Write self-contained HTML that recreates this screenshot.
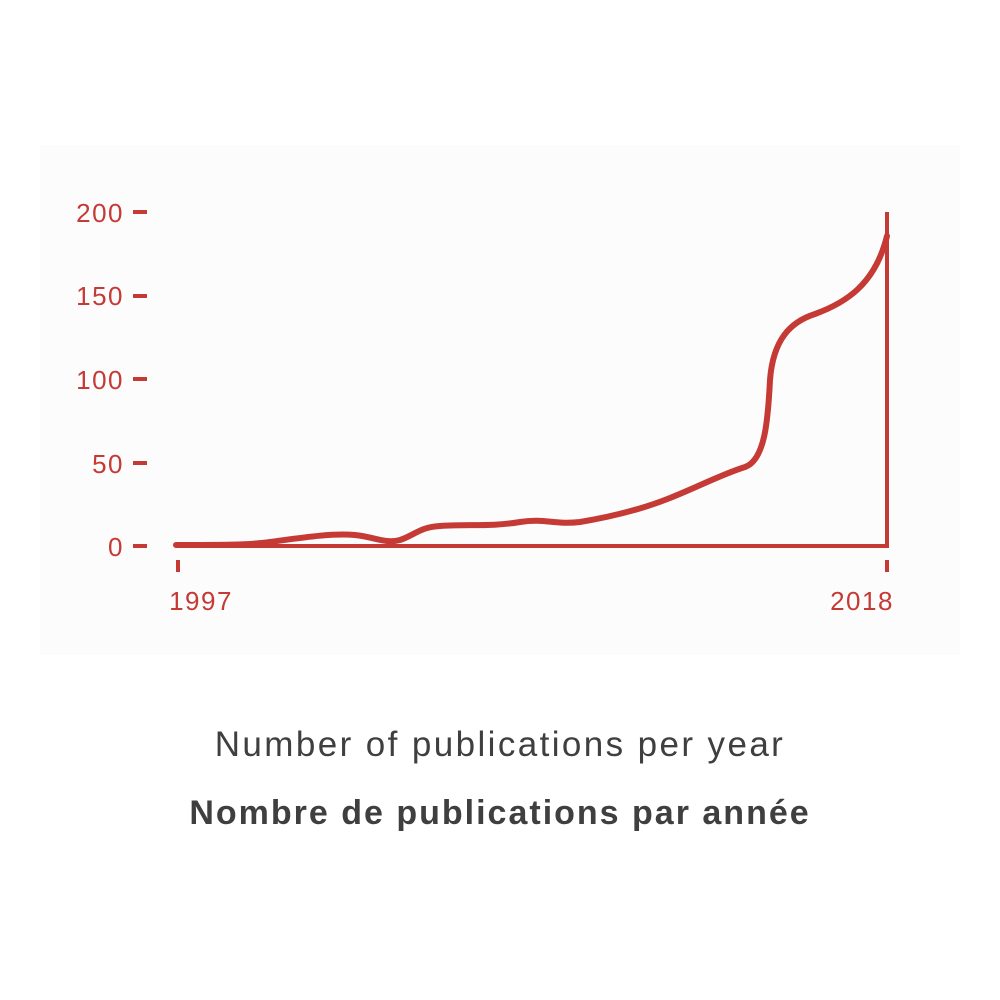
<!DOCTYPE html>
<html><head><style>
body{margin:0;background:#fff;}
.wrap{position:relative;width:1000px;height:1000px;overflow:hidden;background:#fff;font-family:"Liberation Sans",sans-serif;}
.panel{position:absolute;left:40px;top:145px;width:920px;height:510px;background:#fcfcfc;}
.t1{position:absolute;left:0;width:1000px;top:725px;text-align:center;font-size:35px;letter-spacing:2.4px;color:#3f3f3f;}
.t2{position:absolute;left:0;width:1000px;top:794px;text-align:center;font-size:34px;letter-spacing:2px;font-weight:bold;color:#3f3f3f;}
</style></head><body><div class="wrap">
<div class="panel"></div>
<svg width="1000" height="1000" style="position:absolute;left:0;top:0" font-family="Liberation Sans, sans-serif">
<g fill="#c53a35" font-size="26" letter-spacing="1.5" text-anchor="end">
<text x="124" y="222">200</text><text x="124" y="305">150</text><text x="124" y="389">100</text><text x="124" y="473">50</text><text x="124" y="556">0</text>
<text x="201" y="610" text-anchor="middle">1997</text><text x="862" y="610" text-anchor="middle">2018</text>
</g>
<g stroke="#c53a35" stroke-width="4" fill="none">
<line x1="133" y1="212" x2="147" y2="212"/><line x1="133" y1="296" x2="147" y2="296"/><line x1="133" y1="379" x2="147" y2="379"/><line x1="133" y1="463" x2="147" y2="463"/><line x1="133" y1="546" x2="147" y2="546"/>
<line x1="176" y1="546" x2="889" y2="546"/><line x1="887" y1="212" x2="887" y2="548"/>
<line x1="178" y1="560" x2="178" y2="572"/><line x1="887" y1="560" x2="887" y2="572"/>
<path stroke-width="6" stroke-linecap="round" d="M176,545 C220,545 250,545 270,542 C300,538 330,533 355,535 C375,537 385,544 400,540 C415,535 420,527 440,526 C470,524 490,527 520,522 C545,518 555,525 580,522 C610,517 640,510 670,498 C700,486 720,475 745,467 C765,460 768,420 770,380 C773,340 790,322 815,314 C845,303 875,285 887,236"/>
</g>
</svg>
<div class="t1">Number of publications per year</div>
<div class="t2">Nombre de publications par année</div>
</div></body></html>
